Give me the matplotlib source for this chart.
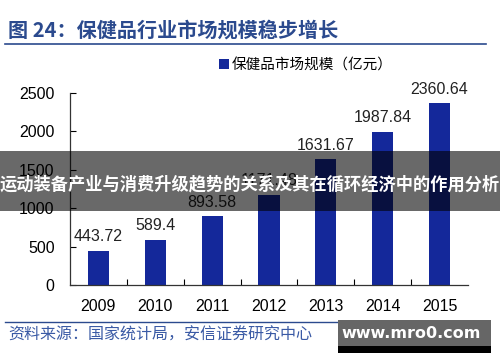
import matplotlib.pyplot as plt
from matplotlib.patches import Rectangle
from matplotlib.lines import Line2D

# Données
years = ['2009', '2010', '2011', '2012', '2013', '2014', '2015']
market_size = [443.72, 589.4, 893.58, 1171.48, 1631.67, 1987.84, 2360.64]
value_labels = ['443.72', '589.4', '893.58', '1171.48', '1631.67', '1987.84', '2360.64']
y_ticks = [0, 500, 1000, 1500, 2000, 2500]

title = '图 24：保健品行业市场规模稳步增长'
legend_label = '保健品市场规模（亿元）'
source = '资料来源：国家统计局，安信证券研究中心'
banner = '运动装备产业与消费升级趋势的关系及其在循环经济中的作用分析'
site = 'www.mro0.com'

plt.rcParams['font.family'] = ['Liberation Sans', 'Noto Sans CJK SC', 'DejaVu Sans']
bar_color = '#14289a'
title_color = '#2b4a8e'

fig = plt.figure(figsize=(5, 3.62), dpi=100)
ax = fig.add_axes([0.14, 0.2127, 0.796, 0.5313])

x = range(len(years))
ax.bar(x, market_size, width=0.37, color=bar_color, label=legend_label, zorder=2)
for xi, v, lab in zip(x, market_size, value_labels):
    ax.annotate(lab, xy=(xi, v), xytext=(0, 7), textcoords='offset points',
                ha='center', va='baseline', fontsize=11.5, color='#222222')

ax.set_xlim(-0.5, len(years) - 0.5)
ax.set_ylim(0, 2500)
ax.set_yticks(y_ticks)
ax.set_xticks(x)
ax.set_xticklabels(years)
ax.set_xticks([i + 0.5 for i in range(len(years) - 1)], minor=True)
ax.tick_params(axis='x', which='major', length=0, pad=10, labelsize=11.5)
ax.tick_params(axis='x', which='minor', direction='in', length=4, width=0.8)
ax.tick_params(axis='y', direction='in', length=4, width=0.8, pad=11, labelsize=11.5)
for s in ['top', 'right']:
    ax.spines[s].set_visible(False)
for s in ['left', 'bottom']:
    ax.spines[s].set_color('#333333')
    ax.spines[s].set_linewidth(0.9)

ax.legend(loc='center', bbox_to_anchor=(0.612, 0.82), bbox_transform=fig.transFigure,
          frameon=False, handlelength=0.7, handleheight=0.7,
          handletextpad=0.2, prop={'family': ['Noto Sans CJK SC'], 'size': 10.5})

# Titre et source
fig.text(0.016, 1 - 30 / 362, title, fontsize=14.5, fontweight='bold',
         color=title_color, va='center', family=['Noto Sans CJK SC'])
fig.add_artist(Line2D([0.01, 0.972], [1 - 44 / 362] * 2, color=title_color, lw=1.2))
fig.add_artist(Line2D([0.01, 0.97], [1 - 322 / 362] * 2, color=title_color, lw=1.0))
fig.text(0.016, 1 - 335 / 362, source, fontsize=11.5, color='#3a5aa5',
         va='center', family=['Noto Sans CJK SC'])

# Bandeau
fig.add_artist(Rectangle((0, 1 - 211 / 362), 1, 60 / 362, transform=fig.transFigure,
                         color='black', alpha=0.59, lw=0, zorder=5))
fig.text(0.5, 1 - 184 / 362, banner, fontsize=12.4, fontweight='bold', color='white',
         ha='center', va='center', family=['Noto Sans CJK SC'], zorder=6)

# Logo
fig.add_artist(Rectangle((338 / 500, 1 - 346 / 362), 153 / 500, 26 / 362,
                         transform=fig.transFigure, color='#666666', lw=0, zorder=5))
fig.add_artist(Rectangle((338 / 500, 1 - 353 / 362), 153 / 500, 7 / 362,
                         transform=fig.transFigure, color='black', lw=0, zorder=5))
fig.text(411 / 500, 1 - 334 / 362, site, fontsize=11.5, fontweight='bold', color='white',
         ha='center', va='center', family=['DejaVu Sans'], zorder=6)

plt.savefig('out.png', dpi=100)
